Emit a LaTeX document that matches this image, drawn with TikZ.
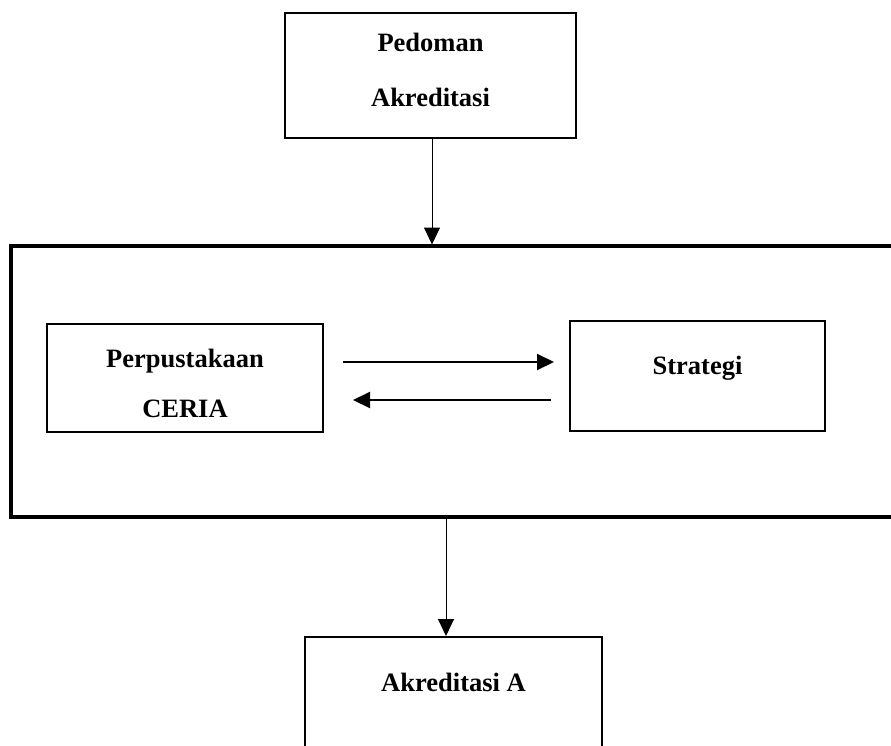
\documentclass[tikz,border=0pt]{standalone}
\usepackage{fontspec}
\setmainfont{Liberation Serif}
\usetikzlibrary{arrows.meta}
\begin{document}
\begin{tikzpicture}[x=1pt,y=-1pt,
  box/.style={draw, line width=2pt, inner sep=0pt, align=center},
  txt/.style={font=\bfseries\fontsize{26.5}{55}\selectfont},
  conn/.style={line width=1pt, -{Triangle[length=17pt,width=16pt]}},
  flow/.style={line width=2pt, -{Triangle[length=17pt,width=16pt]}},
  framebox/.style={line width=3.5pt}]
\useasboundingbox (0,0) rectangle (891,745);
% top box
\node[box, txt, minimum width=291pt, minimum height=125pt, text depth=12pt] (ped) at (430.5,75.5) {Pedoman\\Akreditasi};
% big open frame
\coordinate (ftr) at (905,246);
\coordinate (ftl) at (11,246);
\coordinate (fbl) at (11,517);
\coordinate (fbr) at (905,517);
\draw[framebox] (ftr) -- (ftl) -- (fbl) -- (fbr);
\coordinate (fin) at (432,244.5);
\coordinate (fout) at (446,518);
% inner boxes
\node[box, font=\bfseries\fontsize{26.5}{50}\selectfont, minimum width=276pt, minimum height=108pt, text height=78pt, text depth=0pt] (perp) at (185,378) {Perpustakaan\\CERIA};
\node[box, txt, minimum width=255pt, text height=53.5pt, text depth=56.5pt] (strat) at (697.5,376) {Strategi};
% bottom box (open at bottom)
\node[box, txt, minimum width=297pt, text height=54.5pt, text depth=100pt] (akr) at (453.5,714.25) {Akreditasi A};
% connectors
\draw[conn] (ped.south -| fin) -- (fin);
\draw[flow, shorten <=19pt, shorten >=15pt] ([yshift=16pt]perp.east) -- ([yshift=14pt]strat.west);
\draw[flow, shorten <=18pt, shorten >=29pt] ([yshift=-24pt]strat.west) -- ([yshift=-22pt]perp.east);
\draw[conn] (fout) -- (fout |- akr.north);
\end{tikzpicture}
\end{document}
